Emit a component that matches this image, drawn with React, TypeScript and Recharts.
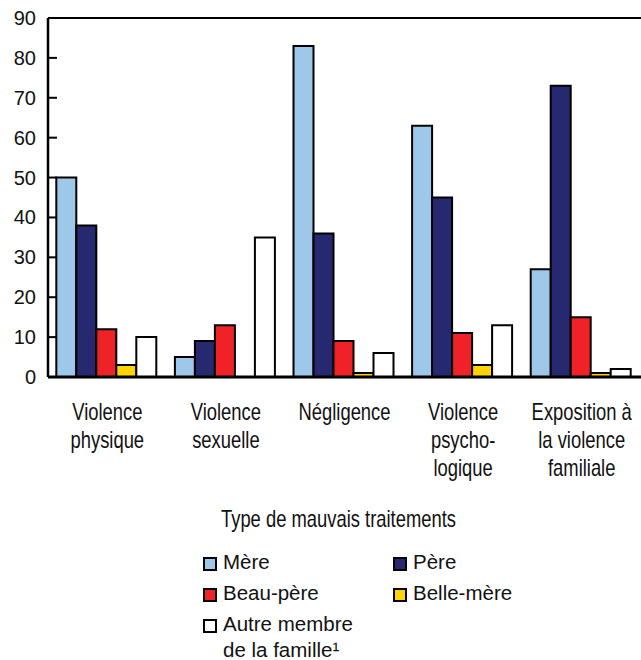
import { BarChart, Bar, XAxis, YAxis, ReferenceLine } from 'recharts';

const categories = [
  ['Violence', 'physique'],
  ['Violence', 'sexuelle'],
  ['Négligence'],
  ['Violence', 'psycho-', 'logique'],
  ['Exposition à', 'la violence', 'familiale'],
];

const mere = [50, 5, 83, 63, 27];
const pere = [38, 9, 36, 45, 73];
const beauPere = [12, 13, 9, 11, 15];
const belleMere = [3, 0, 1, 3, 1];
const autre = [10, 35, 6, 13, 2];

const yTicks = [0, 10, 20, 30, 40, 50, 60, 70, 80, 90];
const xTitle = 'Type de mauvais traitements';

const series = [
  { key: 'mere', name: 'Mère', color: '#9dc8ea', values: mere },
  { key: 'pere', name: 'Père', color: '#262970', values: pere },
  { key: 'beauPere', name: 'Beau-père', color: '#ee2227', values: beauPere },
  { key: 'belleMere', name: 'Belle-mère', color: '#ffd200', values: belleMere },
  { key: 'autre', name: 'Autre membre\nde la famille¹', color: '#ffffff', values: autre },
];

const data = categories.map((lines, i) => {
  const row: Record<string, any> = { name: lines.join(' '), lines };
  series.forEach((s) => {
    row[s.key] = s.values[i];
  });
  return row;
});

const sans = "'Liberation Sans', Arial, sans-serif";
// squeeze Liberation Sans to look like a condensed Helvetica
const squeeze = 0.8;

function XTick(props: any) {
  const { x, y, index } = props;
  const lines = categories[index] || [];
  return (
    <g>
      {lines.map((line, i) => (
        <text
          key={i}
          transform={`translate(${x},${y + 43 + i * 28}) scale(${squeeze},1)`}
          textAnchor="middle"
          fontFamily={sans}
          fontSize={23}
          fill="#111"
        >
          {line}
        </text>
      ))}
    </g>
  );
}

function XTitle(props: any) {
  const { viewBox } = props;
  const cx = viewBox.x + viewBox.width / 2;
  return (
    <text
      transform={`translate(${cx - 6},${viewBox.y + 150}) scale(${squeeze},1)`}
      textAnchor="middle"
      fontFamily={sans}
      fontSize={23}
      fill="#111"
    >
      {xTitle}
    </text>
  );
}

function YTick(props: any) {
  const { x, y, payload } = props;
  return (
    <g>
      {payload.value > 0 && payload.value < 90 && (
        <line x1={x + 12} x2={x + 21} y1={y} y2={y} stroke="#000" strokeWidth={2} />
      )}
      <text x={x} y={y + 7} textAnchor="end" fontFamily={sans} fontSize={20} fill="#111">
        {payload.value}
      </text>
    </g>
  );
}

function LegendBox() {
  const items = [
    { s: series[0], left: 203, top: 557 },
    { s: series[1], left: 393, top: 557 },
    { s: series[2], left: 203, top: 588 },
    { s: series[3], left: 393, top: 588 },
    { s: series[4], left: 203, top: 619 },
  ];
  return (
    <>
      {items.map(({ s, left, top }) => (
        <div key={s.key} style={{ position: 'absolute', left, top, display: 'flex' }}>
          <div
            style={{
              width: 10,
              height: 10,
              border: '2px solid #000',
              background: s.color,
              marginRight: 6,
              flexShrink: 0,
            }}
          />
          <div
            style={{
              fontFamily: sans,
              fontSize: 20.5,
              lineHeight: '26px',
              marginTop: -8,
              color: '#111',
              whiteSpace: 'pre',
            }}
          >
            {s.name}
          </div>
        </div>
      ))}
    </>
  );
}

export default function App() {
  return (
    <div style={{ position: 'absolute', left: 0, top: 0, width: 641, height: 660, background: '#fff' }}>
      <BarChart
        width={641}
        height={660}
        data={data}
        margin={{ top: 18, right: 0, left: 0, bottom: 130 }}
        barCategoryGap="7%"
        barGap={0}
      >
        <YAxis
          type="number"
          domain={[0, 90]}
          ticks={yTicks}
          width={48}
          tickSize={0}
          tickMargin={12}
          tickLine={false}
          axisLine={{ stroke: '#000', strokeWidth: 2.5 }}
          tick={<YTick />}
          interval={0}
        />
        <XAxis
          dataKey="name"
          height={153}
          tickSize={0}
          tickMargin={0}
          tickLine={false}
          axisLine={{ stroke: '#000', strokeWidth: 3 }}
          tick={<XTick />}
          interval={0}
          label={<XTitle />}
        />
        <ReferenceLine y={90} stroke="#000" strokeWidth={2} />
        {series.map((s) => (
          <Bar
            key={s.key}
            dataKey={s.key}
            name={s.name}
            fill={s.color}
            stroke="#000"
            strokeWidth={2}
            isAnimationActive={false}
          />
        ))}
      </BarChart>
      <LegendBox />
    </div>
  );
}
